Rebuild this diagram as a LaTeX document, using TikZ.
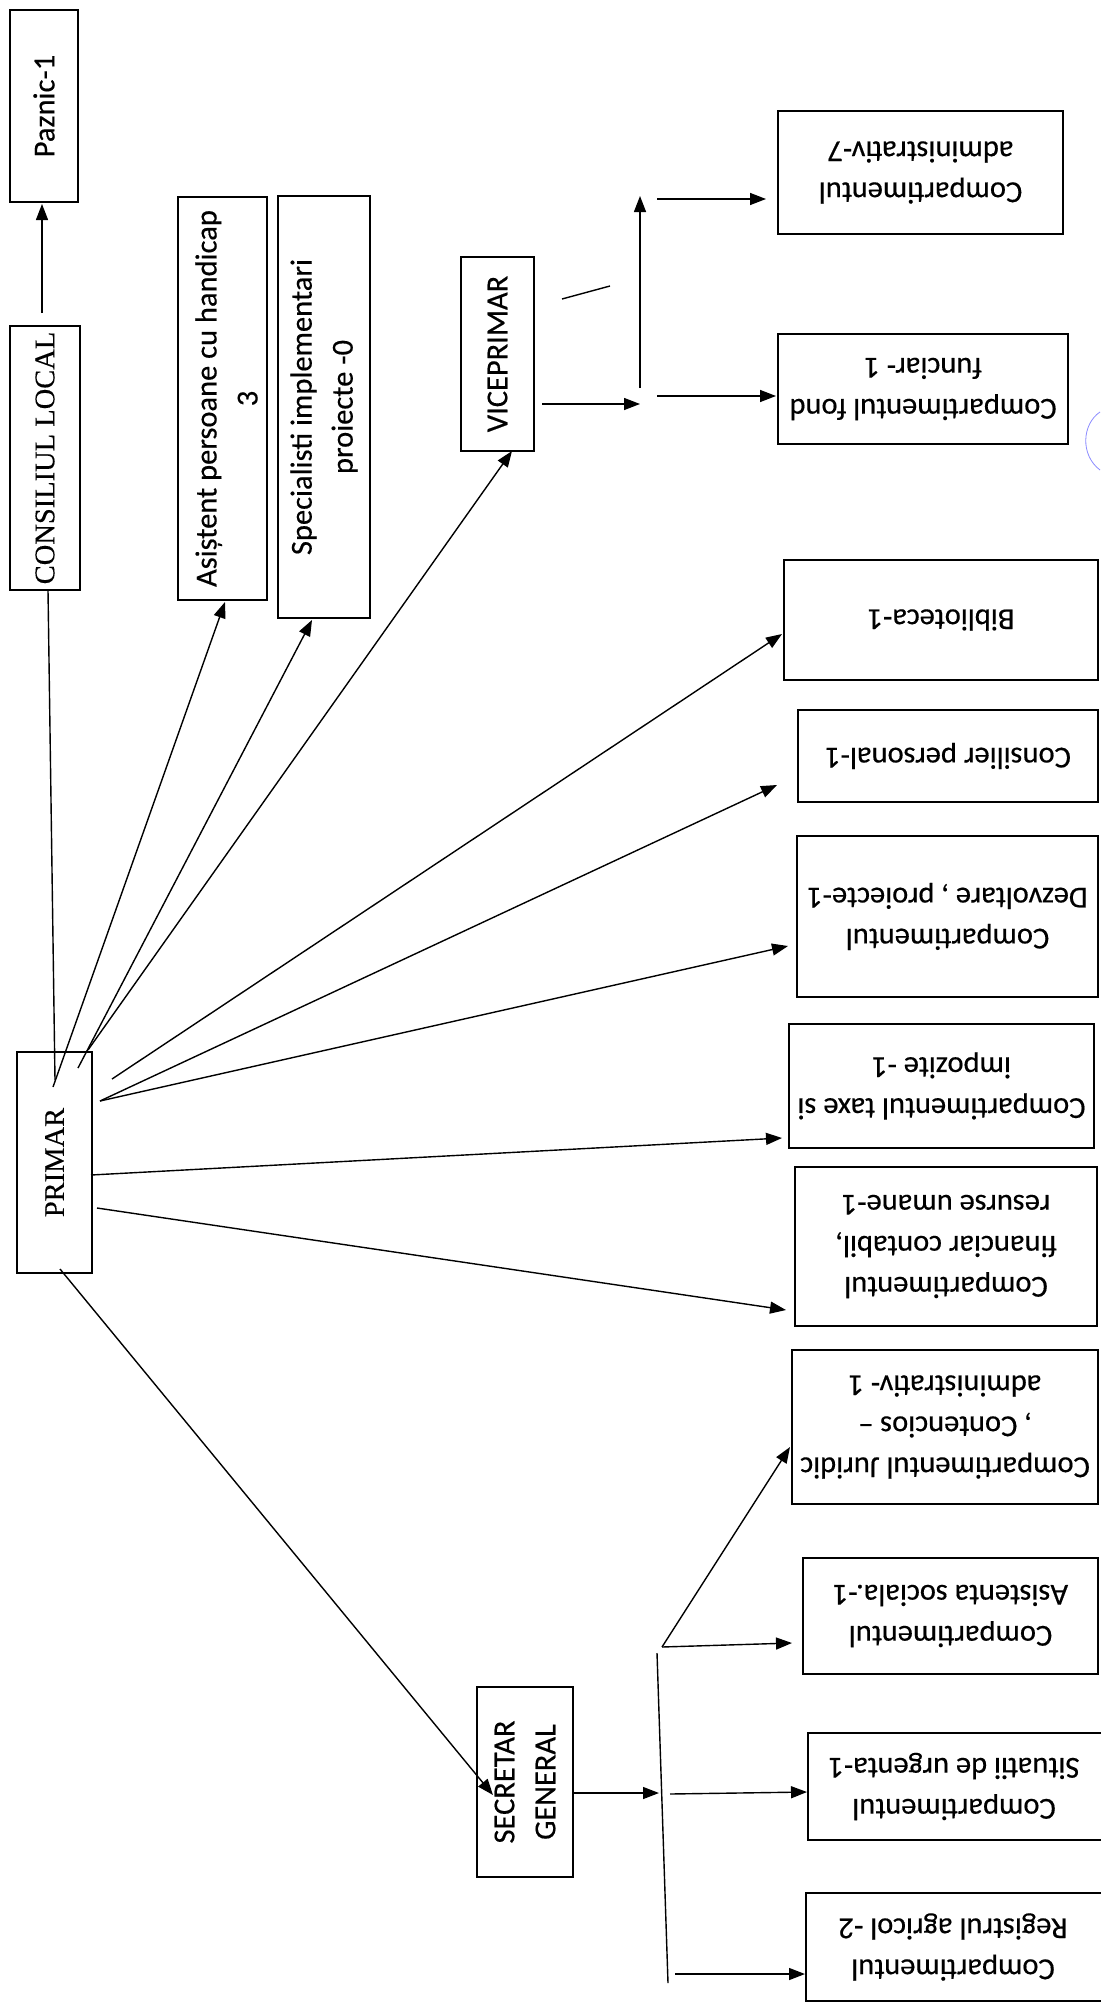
\documentclass[tikz,border=0pt]{standalone}
\usepackage{fontspec}
\setmainfont{Liberation Serif}[FakeBold=0.3]
\newfontfamily\calfont{Carlito}[FakeBold=0.4]
\usetikzlibrary{arrows.meta,fit,calc}
\begin{document}
\begin{tikzpicture}[x=1pt,y=-1pt,
  box/.style={draw, line width=2.2pt, inner sep=0pt, outer sep=0pt},
  conn/.style={line width=1.4pt},
  arr/.style={conn, -{Triangle[length=16pt,width=12pt]}},
  st/.style={font=\calfont\fontsize{30.5}{41}\selectfont, align=center, inner sep=0pt},
  ser/.style={font=\fontsize{28.5}{34}\selectfont, inner sep=0pt},
]
\useasboundingbox (0,0) rectangle (1100,2004);
\fill[white] (0,0) rectangle (1100,2004);

% ---- boxes ----
\node[box, fit={(10,10) (78,202)}] (paz) {};
\node[st, rotate=90] (paz-t) at (paz.center) {Paznic-1};
\node[box, fit={(10,326) (80,590)}] (cl) {};
\node[ser, rotate=90] (cl-t) at (cl.center) {CONSILIUL LOCAL};
\node[box, fit={(178,197) (267,600)}] (asis) {};
\node[st, rotate=90] (asis-t) at ($(asis.center)+(4,0)$) {Asiștent persoane cu handicap\\3};
\node[box, fit={(278,196) (370,618)}] (spec) {};
\node[st, rotate=90] (spec-t) at (spec.center) {Specialisti implementari\\proiecte -0};
\node[box, fit={(461,257) (534,451)}] (vice) {};
\node[st, rotate=90] (vice-t) at (vice.center) {VICEPRIMAR};
\node[box, fit={(17,1052) (92,1273)}] (primar) {};
\node[ser, rotate=90] (primar-t) at (primar.center) {PRIMAR};
\node[box, fit={(477,1687) (573,1877)}] (sec) {};
\node[st, rotate=90] (sec-t) at (sec.center) {SECRETAR\\GENERAL};

\node[box, fit={(778,111) (1063,234)}] (adm7) {};
\node[st, rotate=180] (adm7-t) at (adm7.center) {Compartimentul\\administrativ-7};
\node[box, fit={(778,334) (1068,444)}] (fond) {};
\node[st, rotate=180] (fond-t) at (fond.center) {Compartimentul fond\\funciar- 1};
\node[box, fit={(784,560) (1098,680)}] (bib) {};
\node[st, rotate=180] (bib-t) at (bib.center) {Biblioteca-1};
\node[box, fit={(798,710) (1098,802)}] (cons) {};
\node[st, rotate=180] (cons-t) at (cons.center) {Consilier personal-1};
\node[box, fit={(797,836) (1098,997)}] (dezv) {};
\node[st, rotate=180] (dezv-t) at (dezv.center) {Compartimentul\\Dezvoltare , proiecte-1};
\node[box, fit={(789,1024) (1094,1148)}] (taxe) {};
\node[st, rotate=180] (taxe-t) at (taxe.center) {Compartimentul taxe si\\impozite -1};
\node[box, fit={(795,1167) (1097,1326)}] (fin) {};
\node[st, rotate=180] (fin-t) at (fin.center) {Compartimentul\\financiar contabil,\\resurse umane-1};
\node[box, fit={(792,1350) (1098,1504)}] (jur) {};
\node[st, rotate=180] (jur-t) at (jur.center) {Compartimentul Juridic\\, Contencios –\\administrativ- 1};
\node[box, fit={(803,1558) (1098,1674)}] (asoc) {};
\node[st, rotate=180] (asoc-t) at (asoc.center) {Compartimentul\\Asistenta sociala.-1};
\node[box, fit={(808,1733) (1110,1840)}] (sit) {};
\node[st, rotate=180] (sit-t) at ($(sit.center)+(-5,0)$) {Compartimentul\\Situatii de urgenta-1};
\node[box, fit={(806,1893) (1110,2001)}] (reg) {};
\node[st, rotate=180] (reg-t) at ($(reg.center)+(-5,0)$) {Compartimentul\\Registrul agricol -2};

% ---- named points ----
\coordinate (vj) at (640,404);
\coordinate (vb) at (640,388);
\coordinate (vt) at (640,196);
\coordinate (a7s) at (657,199);
\coordinate (fs) at (657,396);
\coordinate (brm) at (659,1793);
\coordinate (brt) at (657,1653);
\coordinate (brb) at (668,1983);
\coordinate (brj) at (662,1647);
\coordinate (sits) at (670,1794);
\coordinate (regs) at (675,1974);
\coordinate (sl1) at (562,299);
\coordinate (sl2) at (610,286);

% ---- connectors ----
\draw[arr] ($(cl.north)+(-3,-13)$) -- ($(paz.south)+(-2,2)$);
\draw[conn] ($(cl.south)+(3,0)$) -- ($(primar.north)+(0.5,28)$);
\draw[arr] ($(primar.north)+(-1.5,35)$) -- ($(asis.south)+(2.5,2)$);
\draw[arr] ($(primar.north east)+(-14,16)$) -- ($(spec.south)+(-12,2)$);
\draw[arr] ($(primar.north east)+(-4,-2)$) -- ($(vice.south)+(14.5,0)$);

\draw[arr] ($(vice.east)+(8,50)$) -- (vj);
\draw[arr] (vb) -- (vt);
\draw[arr] (a7s) -- ($(adm7.west)+(-12,26.5)$);
\draw[arr] (fs) -- ($(fond.west)+(-2,7)$);
\draw[conn] (sl1) -- (sl2);

\draw[arr] ($(primar.north east)+(20,27)$) -- ($(bib.west)+(-2,14)$);
\draw[arr] ($(primar.north east)+(8,49)$) -- ($(cons.west)+(-21,29)$);
\draw[arr] ($(primar.north east)+(8,49)$) -- ($(dezv.west)+(-9,29.5)$);
\draw[arr] ($(primar.east)+(-1,12.5)$) -- ($(taxe.west)+(-7,52)$);
\draw[arr] ($(primar.east)+(5,45.5)$) -- ($(fin.west)+(-9,63.5)$);
\draw[arr] ($(primar.south)+(5.5,-4)$) -- ($(sec.west)+(16,13)$);

\draw[arr] ($(sec.east)+(0,11)$) -- (brm);
\draw[conn] (brt) -- (brb);
\draw[arr] (brj) -- ($(asoc.west)+(-11,27)$);
\draw[arr] (brj) -- ($(jur.west)+(-2,20)$);
\draw[arr] (sits) -- ($(sit.west)+(-1,5.5)$);
\draw[arr] (regs) -- ($(reg.west)+(-1,27)$);

% stray pen mark
\draw[blue!45, line width=0.8pt] (1100,412) .. controls (1082,424) and (1080,455) .. (1100,470);
\end{tikzpicture}
\end{document}
